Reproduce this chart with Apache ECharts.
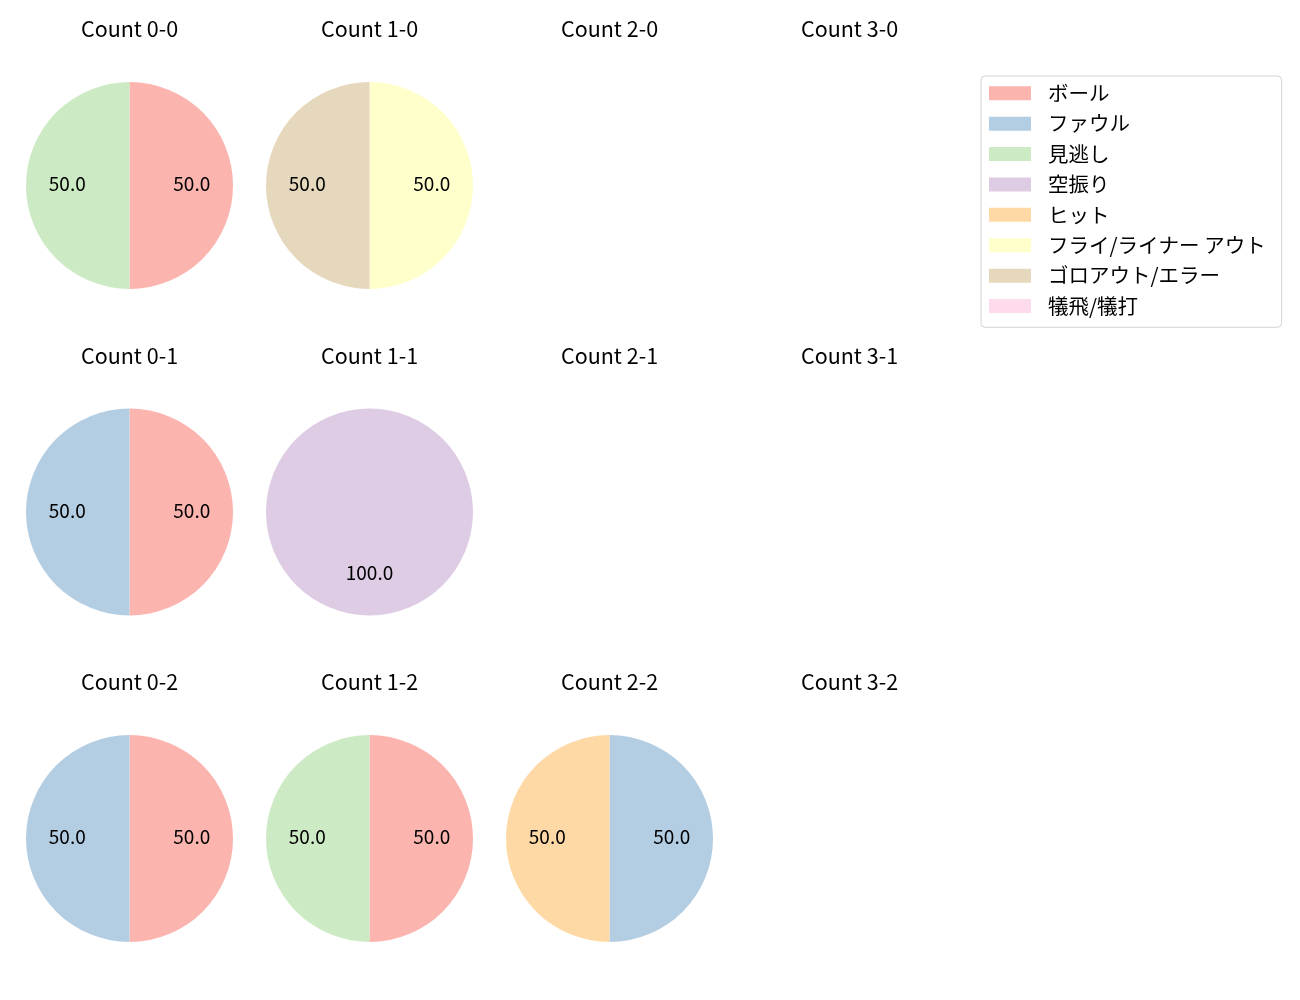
<!DOCTYPE html>
<html><head><meta charset="utf-8">
<script src="https://cdn.jsdelivr.net/npm/echarts@6/dist/echarts.min.js"></script>
<style>html,body{margin:0;padding:0;background:#fff}#c{width:1300px;height:1000px}</style>
</head><body><div id="c"></div>
<script>
// ---- data ----
const categories = ['ボール','ファウル','見逃し','空振り','ヒット','フライ/ライナー アウト','ゴロアウト/エラー','犠飛/犠打'];
const colors = ['#fbb4ae','#b3cde3','#ccebc5','#decbe4','#fed9a6','#ffffcc','#e5d8bd','#fddaec'];
const ballLabels = ['0','1','2','3'];
const strikeLabels = ['0','1','2'];
// percentages per count, in category order (empty = no pitches)
const count_0_0 = [50, 0, 50, 0, 0, 0, 0, 0];
const count_1_0 = [0, 0, 0, 0, 0, 50, 50, 0];
const count_2_0 = [];
const count_3_0 = [];
const count_0_1 = [50, 50, 0, 0, 0, 0, 0, 0];
const count_1_1 = [0, 0, 0, 100, 0, 0, 0, 0];
const count_2_1 = [];
const count_3_1 = [];
const count_0_2 = [50, 50, 0, 0, 0, 0, 0, 0];
const count_1_2 = [50, 0, 50, 0, 0, 0, 0, 0];
const count_2_2 = [0, 50, 0, 0, 50, 0, 0, 0];
const count_3_2 = [];
const grid = [
  [count_0_0, count_1_0, count_2_0, count_3_0],
  [count_0_1, count_1_1, count_2_1, count_3_1],
  [count_0_2, count_1_2, count_2_2, count_3_2]
];

// ---- layout ----
const FONT = '"Noto Sans CJK JP", "Noto Sans", sans-serif';
const colX = [129.5, 369.5, 609.5, 849.5];
const rowY = [185.5, 512, 838.5];
const titleTop = [18, 345, 671];
const R = 103.5;

const titles = [];
const series = [];
// hidden series that carries all categories for the legend
series.push({
  type: 'pie', radius: [0, 0], center: [-100, -100], silent: true,
  label: {show: false}, labelLine: {show: false},
  data: categories.map((c, i) => ({name: c, value: 1, itemStyle: {color: colors[i]}}))
});
const labelSeries = [];
strikeLabels.forEach((s, r) => {
  ballLabels.forEach((b, c) => {
    titles.push({
      text: 'Count ' + b + '-' + s, left: colX[c], top: titleTop[r], textAlign: 'center', padding: 0,
      textStyle: {fontFamily: FONT, fontSize: 21.5, fontWeight: 'normal', color: '#000'}
    });
    const vals = grid[r][c];
    if (!vals.length) return;
    const data = [];
    vals.forEach((v, i) => { if (v > 0) data.push({name: categories[i], value: v, itemStyle: {color: colors[i]}}); });
    series.push({
      type: 'pie', center: [colX[c], rowY[r]], radius: [0, R], startAngle: 90, clockwise: true,
      silent: true, animation: false, label: {show: false}, labelLine: {show: false},
      itemStyle: {borderWidth: 0}, emphasis: {disabled: true}, data: data
    });
    labelSeries.push({
      type: 'pie', center: [colX[c], rowY[r]], radius: [0, R * 1.145], startAngle: 90, clockwise: true,
      silent: true, animation: false, avoidLabelOverlap: false,
      itemStyle: {color: 'rgba(0,0,0,0)', borderWidth: 0}, emphasis: {disabled: true},
      label: {show: true, position: 'inside', fontFamily: FONT, fontSize: 19, color: '#000',
        offset: [0, -1.5], formatter: p => p.percent.toFixed(1)},
      labelLine: {show: false},
      data: data.map(d => ({name: d.name, value: d.value}))
    });
  });
});

const chart = echarts.init(document.getElementById('c'), null, {renderer: 'canvas'});
chart.setOption({
  backgroundColor: '#fff',
  animation: false,
  title: titles,
  legend: {
    orient: 'vertical', left: 981, top: 76, padding: [7, 16, 11, 8],
    itemWidth: 42, itemHeight: 14, itemGap: 9.9, icon: 'rect', selectedMode: false,
    borderColor: '#d4d4d4', borderWidth: 1, borderRadius: 4, backgroundColor: '#fff',
    textStyle: {fontFamily: FONT, fontSize: 20.5, lineHeight: 20, color: '#000', padding: [0, 0, 0, 12]},
    data: categories
  },
  series: series.concat(labelSeries)
});
</script></body></html>
